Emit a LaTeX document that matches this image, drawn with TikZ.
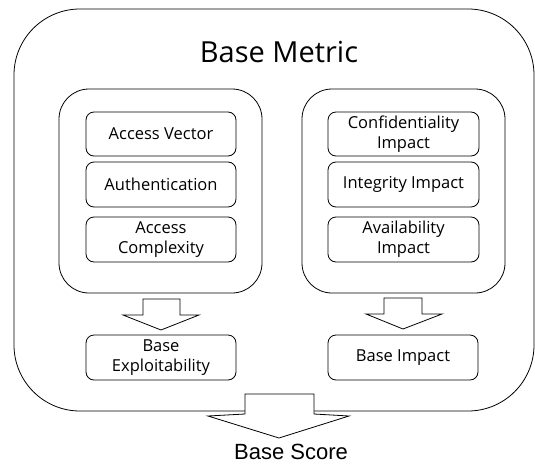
\documentclass[tikz,border=0pt]{standalone}
\usepackage{fontspec}
\setmainfont{Open Sans}
\newfontfamily\arialfont{Liberation Sans}
\begin{document}
\begin{tikzpicture}[x=1pt,y=-1pt,line width=0.8pt,
  bigbox/.style={draw,rounded corners=#1,inner sep=0pt,fill=white},
  item/.style={draw,rounded corners=8pt,inner sep=0pt,minimum width=150pt,minimum height=45pt,
     align=center,font=\fontsize{16.5}{20}\selectfont},
  blockarrow/.style={draw,fill=white,line join=miter}]
\useasboundingbox (0,0) rectangle (535,463);
\node[bigbox=66pt,minimum width=520pt,minimum height=402pt] (outer) at (274,210) {};
\node[font=\fontsize{29}{32}\selectfont] (title) at (279,52) {Base Metric};
\node[bigbox=30pt,minimum width=203pt,minimum height=204pt] (left) at (160.5,191) {};
\node[bigbox=30pt,minimum width=203pt,minimum height=204pt] (right) at (403.5,191) {};
\node[item,minimum height=44pt] (av) at (161,134) {Access Vector};
\node[item] (au) at (161,184.5) {Authentication};
\node[item] (ac) at (161,239.5) {Access\\Complexity};
\node[item,minimum width=151pt,minimum height=44pt] (ci) at (403.5,134) {Confidentiality\\Impact};
\node[item,minimum width=151pt] (ii) at (403.5,184.5) {Integrity Impact};
\node[item,minimum width=151pt] (ai) at (403.5,239.5) {Availability\\Impact};
\node[item] (be) at (161,357.5) {Base\\Exploitability};
\node[item] (bi) at (403,357.5) {Base Impact};
% block arrows
\draw[blockarrow] (143,299) -- (180,299) -- (180,315) -- (199,315) -- (161,330) -- (123,315) -- (143,315) -- cycle;
\draw[blockarrow] (384,298) -- (422,298) -- (422,314) -- (442,314) -- (403,329) -- (366,314) -- (384,314) -- cycle;
\draw[blockarrow] (245,394) -- (314,394) -- (314,414) -- (349,416) -- (279,438) -- (208,416) -- (245,414) -- cycle;
\node[font=\arialfont\fontsize{22}{24}\selectfont] (score) at (291,452) {Base Score};
\end{tikzpicture}
\end{document}
